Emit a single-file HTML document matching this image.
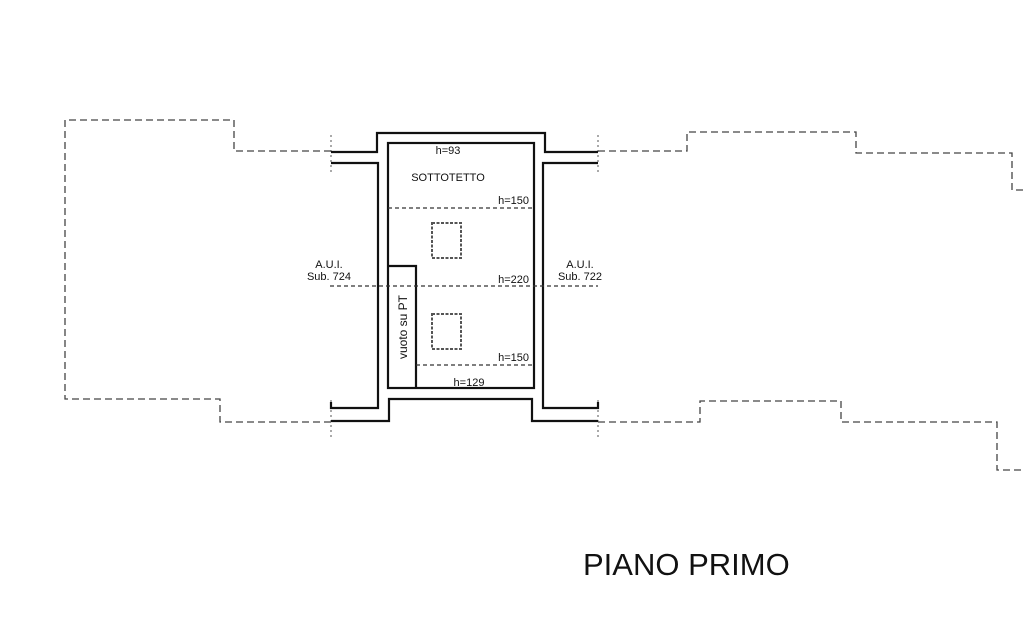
<!DOCTYPE html>
<html><head><meta charset="utf-8"><style>
html,body{margin:0;padding:0;background:#fff;}
svg{display:block;}
text{font-family:"Liberation Sans",Arial,sans-serif;fill:#111;}
</style></head><body>
<svg width="1024" height="619" viewBox="0 0 1024 619" xmlns="http://www.w3.org/2000/svg">
<g fill="none" stroke="#444" stroke-width="1.3" stroke-dasharray="7,4">
<polyline points="331,151 234,151 234,120 65,120 65,399 220,399 220,422 331,422"/>
<polyline points="598,151 687,151 687,132 856,132 856,153 1012,153 1012,190 1024,190"/>
<polyline points="598,422 700,422 700,401 841,401 841,422 997,422 997,470 1024,470"/>
</g>
<g fill="none" stroke="#555" stroke-width="1" stroke-dasharray="2,3">
<line x1="331" y1="135" x2="331" y2="175"/>
<line x1="598" y1="135" x2="598" y2="175"/>
<line x1="331" y1="400" x2="331" y2="440"/>
<line x1="598" y1="400" x2="598" y2="440"/>
</g>
<g fill="none" stroke="#111" stroke-width="2.2">
<polyline points="331,152 377,152 377,133 545,133 545,152 598,152"/>
<polyline points="331,163 378,163 378,408 331,408 331,402"/>
<polyline points="598,163 543,163 543,408 598,408 598,402"/>
<polyline points="331,421 389,421 389,399 532,399 532,421 598,421"/>
<rect x="388" y="143" width="146" height="245"/>
<polyline points="388,266 416,266 416,388"/>
</g>
<line x1="388" y1="266" x2="416" y2="266" stroke="#111" stroke-width="1.2"/>
<g fill="none" stroke="#333" stroke-width="1.2" stroke-dasharray="4,3">
<line x1="388" y1="208" x2="534" y2="208"/>
<line x1="330" y1="286" x2="598" y2="286"/>
<line x1="416" y1="365" x2="534" y2="365"/>
</g>
<g fill="none" stroke="#555" stroke-width="2" stroke-dasharray="3,1.5">
<rect x="432" y="223" width="29" height="35"/>
<rect x="432" y="314" width="29" height="35"/>
</g>
<g font-size="11">
<text x="448" y="154" text-anchor="middle">h=93</text>
<text x="448" y="181" text-anchor="middle">SOTTOTETTO</text>
<text x="529" y="204" text-anchor="end">h=150</text>
<text x="529" y="283" text-anchor="end">h=220</text>
<text x="529" y="361" text-anchor="end">h=150</text>
<text x="469" y="386" text-anchor="middle">h=129</text>
<text x="329" y="268" text-anchor="middle">A.U.I.</text>
<text x="329" y="280" text-anchor="middle">Sub. 724</text>
<text x="580" y="268" text-anchor="middle">A.U.I.</text>
<text x="580" y="280" text-anchor="middle">Sub. 722</text>
<text transform="translate(407,327) rotate(-90)" text-anchor="middle" font-size="12">vuoto su PT</text>
</g>
<text x="583" y="575" font-size="31">PIANO PRIMO</text>
</svg>
</body></html>
